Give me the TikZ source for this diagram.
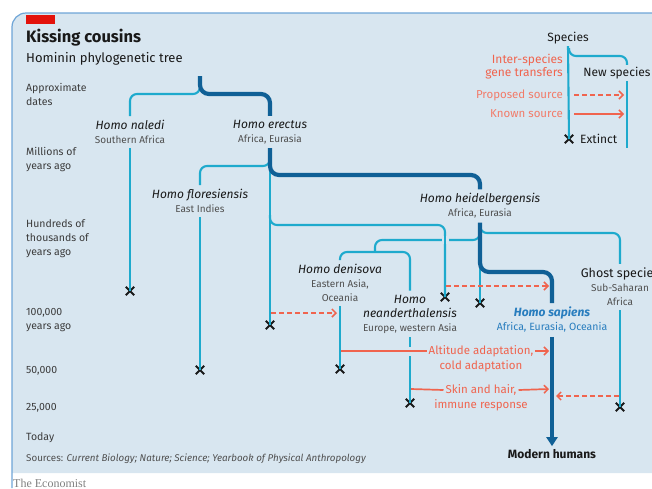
\documentclass[tikz,border=0pt]{standalone}
\usepackage{fontspec}
\setmainfont{Fira Sans}
\newfontfamily\econserif{Liberation Serif}
\usetikzlibrary{arrows.meta}
\definecolor{bg}{RGB}{216,230,240}
\definecolor{lblue}{RGB}{30,170,205}
\definecolor{dblue}{RGB}{16,96,150}
\definecolor{gorange}{RGB}{240,100,78}
\definecolor{ink}{RGB}{25,25,25}
\definecolor{locgray}{RGB}{80,80,80}
\definecolor{sapblue}{RGB}{40,125,190}
\definecolor{econred}{RGB}{227,18,11}
\definecolor{frameblue}{RGB}{110,165,215}
\newcommand\loc[1]{{\fontsize{10}{14}\selectfont\upshape\color{locgray}#1}}
\newcommand\xmark[2]{\node[xm] (#1) at (#2) {};
  \draw[xline] (#1.north west) -- (#1.south east) (#1.north east) -- (#1.south west);}
\begin{document}
\begin{tikzpicture}[x=1pt,y=-1pt,
  lb/.style={draw=lblue,line width=2.1pt,rounded corners=7pt},
  db/.style={draw=dblue,line width=4.2pt,rounded corners=9pt},
  gt/.style={draw=gorange,line width=1.7pt},
  gtd/.style={draw=gorange,line width=1.7pt,dash pattern=on 5pt off 3pt},
  tip/.style={-{Straight Barb[length=4pt,width=8pt,line width=1.5pt]}},
  sp/.style={align=center,inner sep=4pt,text=ink,font=\fontsize{12}{14}\selectfont\itshape},
  axl/.style={anchor=west,align=left,inner sep=0pt,text=ink!85,font=\fontsize{10.5}{14}\selectfont},
  gtext/.style={inner sep=2pt,text=gorange,font=\fontsize{11.5}{14}\selectfont},
  xm/.style={inner sep=0pt,minimum size=8pt},
  xline/.style={draw=ink,line width=1.8pt},
  bgcut/.style={draw=bg,line width=7pt}]
\useasboundingbox (0,0) rectangle (652,488);
% panel
\fill[bg] (12,473) [rounded corners=14pt] -- (12,13) [sharp corners] -- (652,13) -- (652,473) -- cycle;
\draw[frameblue,line width=1.2pt] (12,488) [rounded corners=14pt] -- (12,13) [sharp corners] -- (652,13);
\fill[econred] (26,15) rectangle (55,24);
\node[anchor=west,inner sep=0pt,text=ink,font=\fontsize{16.5}{18}\selectfont\bfseries] (title) at (26,38) {Kissing cousins};
\node[anchor=west,inner sep=0pt,text=ink,font=\fontsize{13}{15}\selectfont] (subtitle) at (26,59) {Hominin phylogenetic tree};
% axis labels
\node[axl] (a1) at (26,94) {Approximate\\dates};
\node[axl] (a2) at (26,160) {Millions of\\years ago};
\node[axl] (a3) at (26,239) {Hundreds of\\thousands of\\years ago};
\node[axl] (a4) at (26,320) {100,000\\years ago};
\node[axl] (a5) at (26,371) {50,000};
\node[axl] (a6) at (26,408) {25,000};
\node[axl] (a7) at (26,438) {Today};
\node[axl,text=locgray,font=\fontsize{9.8}{11}\selectfont] (src) at (26,459) {Sources: \textit{Current Biology; Nature; Science; Yearbook of Physical Anthropology}};
\node[anchor=west,inner sep=0pt,text=black!50,font=\econserif\fontsize{12}{14}\selectfont] (econ) at (13,483) {The Economist};
% legend
\node[inner sep=2pt,text=ink,font=\fontsize{12}{14}\selectfont] (species) at (568,38) {Species};
\node[inner sep=2pt,text=ink,font=\fontsize{12}{14}\selectfont] (newsp) at (617,73) {New species};
\node[anchor=east,align=right,inner sep=0pt,text=gorange,font=\fontsize{12}{13}\selectfont] (igt) at (563,67) {Inter-species\\gene transfers};
\node[anchor=east,inner sep=0pt,text=gorange!85,font=\fontsize{11.5}{13}\selectfont] (prop) at (563,95) {Proposed source};
\node[anchor=east,inner sep=0pt,text=gorange!85,font=\fontsize{11.5}{13}\selectfont] (known) at (563,114) {Known source};
\xmark{xLeg}{569,139}
\node[anchor=west,inner sep=0pt,text=ink,font=\fontsize{12}{14}\selectfont] (extinct) at (580,139) {Extinct};
\draw[lb] (species.south) -- (xLeg.center);
\draw[lb] (569,48) -- (569,56) -- (627,56) -- (newsp.north -| 627,0);
\draw[lb] (newsp.south -| 627,0) -- (627,148);
\coordinate (pS) at (574,95); \coordinate (pE) at (624,95);
\coordinate (kS) at (574,114); \coordinate (kE) at (624,114);
\draw[gtd,tip] (pS) -- (pE);
\draw[gt,tip] (kS) -- (kE);
% species labels
\node[sp] (naledi) at (130,132) {Homo naledi\\\loc{Southern Africa}};
\node[sp] (erectus) at (270,132) {Homo erectus\\\loc{Africa, Eurasia}};
\node[sp] (flores) at (200,201) {Homo floresiensis\\\loc{East Indies}};
\node[sp] (heid) at (480,206) {Homo heidelbergensis\\\loc{Africa, Eurasia}};
\node[sp] (den) at (340,283) {Homo denisova\\\loc{Eastern Asia,}\\\loc{Oceania}};
\node[sp] (nea) at (410,314) {Homo\\neanderthalensis\\\loc{Europe, western Asia}};
\node[sp,font=\fontsize{12.5}{14}\selectfont] (ghost) at (620,287) {Ghost species\\\loc{Sub-Saharan}\\\loc{Africa}};
\node[sp,text=sapblue,font=\fontsize{12}{14}\selectfont\bfseries\itshape] (sap) at (552,320) {Homo sapiens\\{\fontsize{10.5}{14}\selectfont\mdseries\upshape Africa, Eurasia, Oceania}};
\node[inner sep=3pt,text=ink,font=\fontsize{12}{14}\selectfont\bfseries] (modern) at (552,454) {Modern humans};
% X marks
\xmark{xN}{130,291}
\xmark{xE}{270,325}
\xmark{xF}{200,370}
\xmark{xA}{445,297}
\xmark{xH}{480,303}
\xmark{xD}{340,369}
\xmark{xNe}{410,403}
\xmark{xG}{620,407}
% tree: light lines
\draw[lb] (200,84) -- (200,94) -- (130,94) -- (naledi.north);
\draw[lb] (naledi.south) -- (xN.center);
\draw[lb] (270,156) -- (270,166) -- (200,166) -- (flores.north);
\draw[lb] (flores.south) -- (xF.center);
\draw[lb] (270,170) -- (xE.center);
\draw[lb] (270,215) -- (270,225) -- (445,225) -- (xA.center);
\draw[lb] (480,224) -- (480,233) -- (620,233) -- (ghost.north);
\draw[lb] (ghost.south) -- (xG.center);
\draw[lb] (480,230) -- (480,240) -- (375,240) -- (375,252);
\draw[bgcut] (445,236) -- (445,244);
\draw[lb] (445,232) -- (445,248);
\draw[lb] (den.north) -- (340,252) -- (410,252) -- (nea.north);
\draw[lb] (den.south) -- (xD.center);
\draw[lb] (nea.south) -- (xNe.center);
\draw[lb] (480,262) -- (xH.center);
% tree: dark lines
\draw[db] (200,76) -- (200,94) -- (270,94) -- (erectus.north);
\draw[db] (erectus.south) -- (270,175) -- (480,175) -- (heid.north);
\draw[db] (heid.south) -- (480,272) -- (552,272) -- (sap.north);
\draw[draw=dblue,line width=4.2pt,-{Triangle[length=9pt,width=11pt]}] (sap.south) -- (modern.north);
% gene transfers
\coordinate (eA) at (271,313); \coordinate (dA) at (337,313);
\draw[gtd,tip] (eA) -- (dA);
\coordinate (aS) at (446,286); \coordinate (sA) at (549,286);
\draw[gtd,tip] (aS) -- (sA);
\coordinate (gA) at (619,396); \coordinate (sB) at (556,396);
\draw[gtd,tip] (gA) -- (sB);
\node[gtext] (alt1) at (481,351) {Altitude adaptation,};
\node[gtext] (alt2) at (481,366) {cold adaptation};
\node[gtext] (skin1) at (481,390) {Skin and hair,};
\node[gtext] (skin2) at (481,405) {immune response};
\coordinate (dB) at (341,351); \coordinate (sC) at (549,351);
\coordinate (nB) at (411,389); \coordinate (sD) at (549,389);
\draw[bgcut] (410,347) -- (410,356);
\draw[gt] (dB) -- (alt1.west);
\draw[gt,tip] (alt1.east) -- (sC);
\draw[gt] (nB) -- (skin1.west);
\draw[gt,tip] (skin1.east) -- (sD);
\end{tikzpicture}
\end{document}
